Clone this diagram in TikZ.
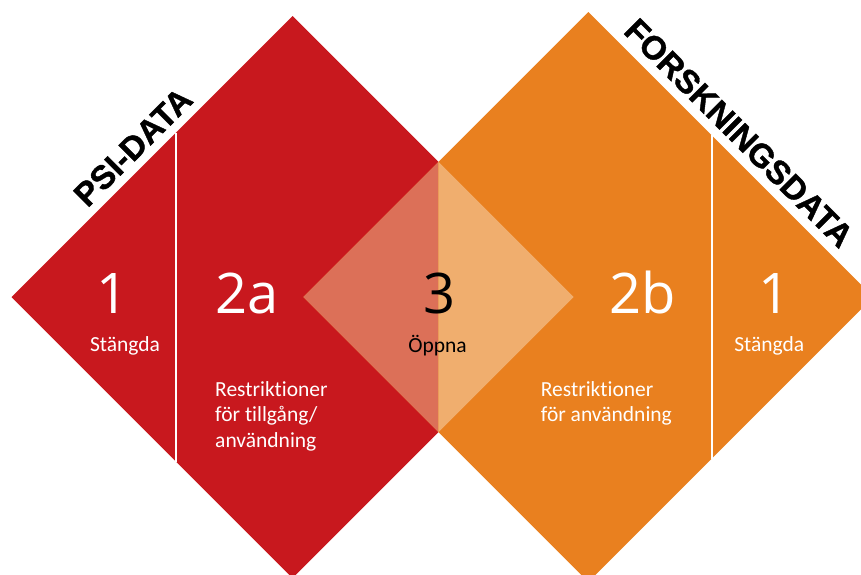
\documentclass[tikz,border=0pt]{standalone}
\usepackage{fontspec}
\setmainfont{Carlito}[Ligatures=NoCommon]
\newfontfamily\numfont{Open Sans}
\newfontfamily\headfont{Liberation Sans}[BoldFeatures={FakeBold=1.2}]
\definecolor{psired}{HTML}{C8181E}
\definecolor{forskorange}{HTML}{E9801F}
\definecolor{overlapleft}{HTML}{DC7058}
\definecolor{overlapright}{HTML}{F0AE6E}
\tikzset{
  bignum/.style={inner sep=0pt, anchor=base, font=\numfont\fontsize{56}{56}\selectfont},
  smalltext/.style={inner sep=0pt, anchor=base, font=\fontsize{21.5}{25.5}\selectfont},
  linetext/.style={inner sep=0pt, anchor=base west, font=\fontsize{21.5}{25.5}\selectfont},
  titletext/.style={inner sep=0pt, anchor=base, font=\headfont\bfseries\fontsize{33}{33}\selectfont},
  divider/.style={white, line width=2pt}
}
\begin{document}
\begin{tikzpicture}[x=1pt,y=-1pt]
\useasboundingbox (0,0) rectangle (861,574);
\clip (0,0) rectangle (861,574);
% red diamond
\coordinate (RL) at (11.5,297);
\coordinate (RT) at (292.5,16);
\coordinate (RR) at (573.5,297);
\coordinate (RB) at (292.5,578);
% orange diamond
\coordinate (OL) at (303.3,297);
\coordinate (OT) at (588.3,12);
\coordinate (OR) at (873.3,297);
\coordinate (OB) at (588.3,582);
% overlap
\coordinate (CT) at (438.4,161.9);
\coordinate (CB) at (438.4,432.1);
\fill[psired] (RL) -- (RT) -- (RR) -- (RB) -- cycle;
\fill[forskorange] (OL) -- (OT) -- (OR) -- (OB) -- cycle;
\fill[overlapleft] (OL) -- (CT) -- (CB) -- cycle;
\fill[overlapright] (CT) -- (RR) -- (CB) -- cycle;
% dividers
\coordinate (DLt) at (176,132.5);
\coordinate (DLb) at (176,461.5);
\coordinate (DRt) at (711.7,135);
\coordinate (DRb) at (711.7,458.5);
\draw[divider] (DLt) -- (DLb);
\draw[divider] (DRt) -- (DRb);
% titles
\node[titletext, rotate=45] (psi) at (141,155) {PSI-DATA};
\node[titletext, rotate=-45] (forsk) at (731,141) {FORSKNINGSDATA};
% red texts
\node[bignum, white] (r1) at (113,313) {1};
\node[smalltext, white] (rst) at (125,351.7) {Stängda};
\node[bignum, white] (r2a) at (247,313) {2a};
\node[linetext, white] (rrest1) at (215,396) {Restriktioner};
\node[linetext, white] (rrest2) at (215,421.5) {för tillgång/};
\node[linetext, white] (rrest3) at (215,447) {användning};
% centre
\node[bignum, black] (c3) at (440,313) {3};
\node[smalltext, black] (coppna) at (437.5,352) {Öppna};
% orange texts
\node[bignum, white] (o2b) at (642.5,313) {2b};
\node[linetext, white] (orest1) at (540.7,396) {Restriktioner};
\node[linetext, white] (orest2) at (540.7,421.5) {för användning};
\node[bignum, white] (o1) at (774,313) {1};
\node[smalltext, white] (ost) at (769.3,351.7) {Stängda};
\end{tikzpicture}
\end{document}
